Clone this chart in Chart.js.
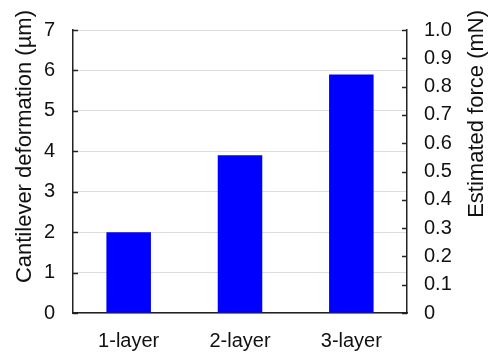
<!DOCTYPE html>
<html>
<head>
<meta charset="utf-8">
<script src="https://cdn.jsdelivr.net/npm/chart.js@4/dist/chart.umd.min.js"></script>
<style>
  html, body { margin: 0; padding: 0; background: #fff; }
  #wrap { width: 489px; height: 352px; position: relative; }
</style>
</head>
<body>
<div id="wrap"><canvas id="chart"></canvas></div>
<script>
/* data */
const categories    = ['1-layer', '2-layer', '3-layer'];
const deformationUm = [2.0, 3.9, 5.9];
const leftTitle     = 'Cantilever deformation (µm)';
const rightTitle    = 'Estimated force (mN)';
const leftRange     = [0, 7];
const rightRange    = [0, 1];

const FONT = "'Liberation Sans', Arial, Helvetica, sans-serif";
const AXIS = '#222';

/* inward tick marks + rotated titles (both read bottom-to-top) */
const frame = {
  id: 'frame',
  afterDraw(chart) {
    const c = chart.ctx, a = chart.chartArea;
    const y = chart.scales.y, y2 = chart.scales.y2;
    c.save();
    c.strokeStyle = AXIS;
    c.lineWidth = 1.5;
    y.ticks.forEach(t => {
      const p = Math.round(y.getPixelForValue(t.value)) + 0.5;
      c.beginPath(); c.moveTo(a.left, p); c.lineTo(a.left + 5, p); c.stroke();
    });
    y2.ticks.forEach(t => {
      const p = Math.round(y2.getPixelForValue(t.value)) + 0.5;
      c.beginPath(); c.moveTo(a.right, p); c.lineTo(a.right - 5, p); c.stroke();
    });

    c.fillStyle = '#111';
    c.font = '22px ' + FONT;
    c.textAlign = 'right';
    c.textBaseline = 'middle';
    c.translate(25, 10); c.rotate(-Math.PI / 2);
    c.fillText(leftTitle, 0, 0);
    c.restore();

    c.save();
    c.fillStyle = '#111';
    c.font = '22px ' + FONT;
    c.textAlign = 'right';
    c.textBaseline = 'middle';
    c.translate(477, 10); c.rotate(-Math.PI / 2);
    c.fillText(rightTitle, 0, 0);
    c.restore();
  }
};

new Chart(document.getElementById('chart'), {
  type: 'bar',
  data: {
    labels: categories,
    datasets: [{
      data: deformationUm,
      yAxisID: 'y',
      backgroundColor: '#0000ff',
      borderWidth: 0,
      categoryPercentage: 1,
      barPercentage: 0.4,
    }]
  },
  options: {
    responsive: true,
    maintainAspectRatio: false,
    animation: false,
    layout: { padding: { top: 18, left: 0, right: 0, bottom: 0 } },
    plugins: { legend: { display: false }, tooltip: { enabled: false } },
    scales: {
      x: {
        grid:   { display: false, drawTicks: false },
        border: { color: AXIS, width: 1.5 },
        ticks:  { color: '#111', font: { family: FONT, size: 20 }, padding: 16 },
        afterFit: s => { s.height = 39; }
      },
      y: {
        position: 'left',
        min: leftRange[0], max: leftRange[1],
        grid:   { color: '#dcdcdc', drawTicks: false },
        border: { color: AXIS, width: 1.5 },
        ticks:  { stepSize: 1, color: '#111', font: { family: FONT, size: 20 }, padding: 18 },
        afterFit: s => { s.width = 73; }
      },
      y2: {
        position: 'right',
        min: rightRange[0], max: rightRange[1],
        grid:   { drawOnChartArea: false, drawTicks: false },
        border: { color: AXIS, width: 1.5 },
        ticks:  {
          stepSize: 0.1, color: '#111', font: { family: FONT, size: 20 }, padding: 17,
          callback: v => (v === 0 ? '0' : v.toFixed(1))
        },
        afterFit: s => { s.width = 82; }
      }
    }
  },
  plugins: [frame]
});
</script>
</body>
</html>
